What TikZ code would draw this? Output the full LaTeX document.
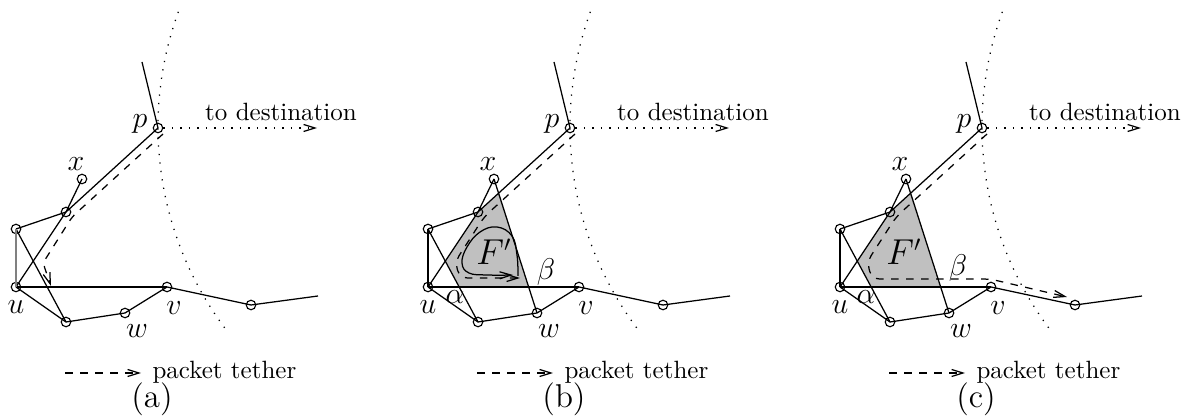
\documentclass[tikz,border=0pt]{standalone}
\usetikzlibrary{arrows.meta}
\definecolor{facegray}{RGB}{192,192,192}
\newcommand\drawbase[2]{%
 \node[vtx] (#1p) at (158,128) {};
 \node[vtx] (#1x) at (82,179) {};
 \node[vtx] (#1n) at (66,212) {};
 \node[vtx] (#1a) at (16,229) {};
 \node[vtx] (#1u) at (16,287) {};
 \node[vtx] (#1b) at (66,322) {};
 \node[vtx] (#1w) at (125,313) {};
 \node[vtx] (#1v) at (167,287) {};
 \node[vtx] (#1r) at (251,305) {};
 \coordinate (#1top) at (142,62);
 \coordinate (#1end) at (318,296);
 \coordinate (#1dest) at (317,128);
 \draw[edge] (#1top) -- (#1p.center);
 \draw[edge] (#1p.center) -- (#1n.center);
 \draw[edge] (#1n.center) -- (#1u.center);
 \draw[edge] (#1n.center) -- (#1x.center);
 \draw[edge] (#1n.center) -- (#1a.center);
 \draw[edge] (#1a.center) -- (#1b.center);
 \draw[edge] (#1u.center) -- (#1b.center);
 \draw[edge] (#1u.center) -- (#1v.center);
 \draw[edge] (#1b.center) -- (#1w.center);
 \draw[edge] (#1w.center) -- (#1v.center);
 \draw[edge] (#1v.center) -- (#1r.center);
 \draw[edge] (#1r.center) -- (#1end);
 \draw[dotline] plot[domain=143.3:200.9,samples=90] ({494+336*cos(\x)},{127+336*sin(\x)});
 \draw[dotline,tip] (#1p) -- (#1dest);
 \node[txt] (#1tdest) at (281,112) {to destination};
 \node[lbl] (#1lp) at (140,124) {$p$};
 \node[lbl] (#1lx) at (76,164) {$x$};
 \node[lbl] (#1lu) at (16,307) {$u$};
 \node[lbl] (#1lv) at (174,308) {$v$};
 \node[lbl] (#1lw) at (137,331) {$w$};
 \coordinate (#1lg1) at (65,373);
 \coordinate (#1lg2) at (141,373);
 \draw[tether] (#1lg1) -- (#1lg2);
 \node[txt,anchor=base west] (#1lgt) at (152,379) {packet tether};
 \node[txt,font=\fontsize{13.2}{16}\selectfont] (#1cap) at (152,399) {(#2)};
}
\begin{document}
\begin{tikzpicture}[x=0.4pt,y=-0.4pt,
  vtx/.style={circle,draw,inner sep=0pt,minimum size=3.8pt,line width=0.45pt},
  edge/.style={line width=0.5pt},
  lbl/.style={font=\fontsize{12}{14}\selectfont,inner sep=0pt},
  txt/.style={font=\fontsize{10}{12}\selectfont,inner sep=0pt},
  tip/.style={-{Straight Barb[length=4.5pt,width=2.8pt]}},
  tether/.style={dashed,line width=0.5pt,tip},
  dotline/.style={line width=0.5pt,dash pattern=on 0.5pt off 2.9pt},
  face/.style={fill=facegray,draw=none}]
\useasboundingbox (0,0) rectangle (1199,417);
% panel (a)
\begin{scope}
 \drawbase{a}{a}
 \draw[edge,draw=gray,line width=0.6pt] (aa.center) -- (au.center);
 \coordinate (at1) at (163,134);
 \coordinate (at2) at (72,217);
 \coordinate (at3) at (43,263);
 \coordinate (at4) at (51,286);
 \draw[tether,rounded corners=2pt] (at1) -- (at2) -- (at3) -- (at4);
\end{scope}
% panel (b)
\begin{scope}[shift={(412,0)}]
 \fill[face] (33.5,261.5) -- (66,212) -- (87.2,192.7) -- (116.4,287) -- (47.7,287) -- cycle;
 \drawbase{b}{b}
 \draw[edge] (ba.center) -- (bu.center);
 \draw[edge] (bx.center) -- (bw.center);
 \node[lbl] (blal) at (43,297) {$\alpha$};
 \node[lbl] (blbe) at (134,272) {$\beta$};
 \node[lbl,font=\fontsize{13.5}{16}\selectfont] (blF) at (82,252) {$F'$};
 \coordinate (bt1) at (163,134);
 \coordinate (bt2) at (72,217);
 \coordinate (bt3) at (43,262);
 \coordinate (bt4) at (48,278);
 \coordinate (bt5) at (108,278);
 \draw[tether,rounded corners=3pt] (bt1) -- (bt2) -- (bt3) -- (bt4) -- (bt5);
 \draw[edge,tip] plot[smooth,tension=0.7] coordinates {(106,276) (105,255) (100,236) (85,227) (68,232) (55,247) (50,263) (57,273) (75,275) (101,275)};
\end{scope}
% panel (c)
\begin{scope}[shift={(824,0)}]
 \fill[face] (33.5,261.5) -- (66,212) -- (87.2,192.7) -- (116.4,287) -- (47.7,287) -- cycle;
 \drawbase{c}{c}
 \draw[edge] (ca.center) -- (cu.center);
 \draw[edge] (cx.center) -- (cw.center);
 \node[lbl] (clal) at (42,297) {$\alpha$};
 \node[lbl] (clbe) at (134,268) {$\beta$};
 \node[lbl,font=\fontsize{13.5}{16}\selectfont] (clF) at (80,252) {$F'$};
 \coordinate (ct1) at (163,134);
 \coordinate (ct2) at (72,217);
 \coordinate (ct3) at (43,262);
 \coordinate (ct4) at (48,279);
 \coordinate (ct5) at (166,279);
 \coordinate (ct6) at (243,297);
 \draw[tether,rounded corners=3pt] (ct1) -- (ct2) -- (ct3) -- (ct4) -- (ct5) -- (ct6);
\end{scope}
\end{tikzpicture}
\end{document}
